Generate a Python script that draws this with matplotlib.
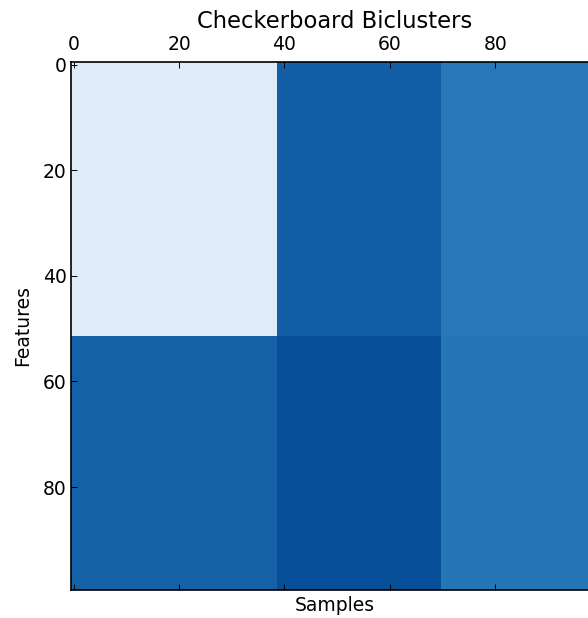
import numpy as np
import matplotlib
matplotlib.use("Agg")
import matplotlib.pyplot as plt

# bicluster layout: row / column cluster boundaries and block levels
row_bounds = [0, 52, 100]
col_bounds = [0, 39, 70, 100]
block_levels = [[12, 82, 72],
                [81, 88, 73]]
x_ticks = [0, 20, 40, 60, 80]
y_ticks = [0, 20, 40, 60, 80]

plt.rcParams['font.family'] = ['DejaVu Sans']
plt.rcParams['font.size'] = 13.5

# build the matrix from the blocks
data = np.zeros((row_bounds[-1], col_bounds[-1]))
for i in range(len(row_bounds) - 1):
    for j in range(len(col_bounds) - 1):
        data[row_bounds[i]:row_bounds[i + 1], col_bounds[j]:col_bounds[j + 1]] = block_levels[i][j]

fig = plt.figure(figsize=(5.88, 6.18), dpi=100)
ax = fig.add_axes([0.1207, 0.0453, 0.8963, 0.8544])
ax.imshow(data, cmap='Blues', vmin=0, vmax=100, aspect='auto', interpolation='nearest')

ax.set_xticks(x_ticks)
ax.set_yticks(y_ticks)
ax.tick_params(direction='in', length=4.5, width=0.7, top=True, bottom=True, left=True, right=True,
               labeltop=True, labelbottom=False, labelsize=13.5, pad=3)
ax.tick_params(axis='x', pad=6)
ax.xaxis.set_label_position('bottom')
for s in ax.spines.values():
    s.set_linewidth(1.2)

ax.set_title("Checkerboard Biclusters", fontsize=16.3, pad=5)
ax.set_xlabel("Samples", fontsize=13.5, labelpad=4)
ax.set_ylabel("Features", fontsize=13.5, labelpad=8)

fig.savefig("out.png", dpi=100, facecolor='white')
